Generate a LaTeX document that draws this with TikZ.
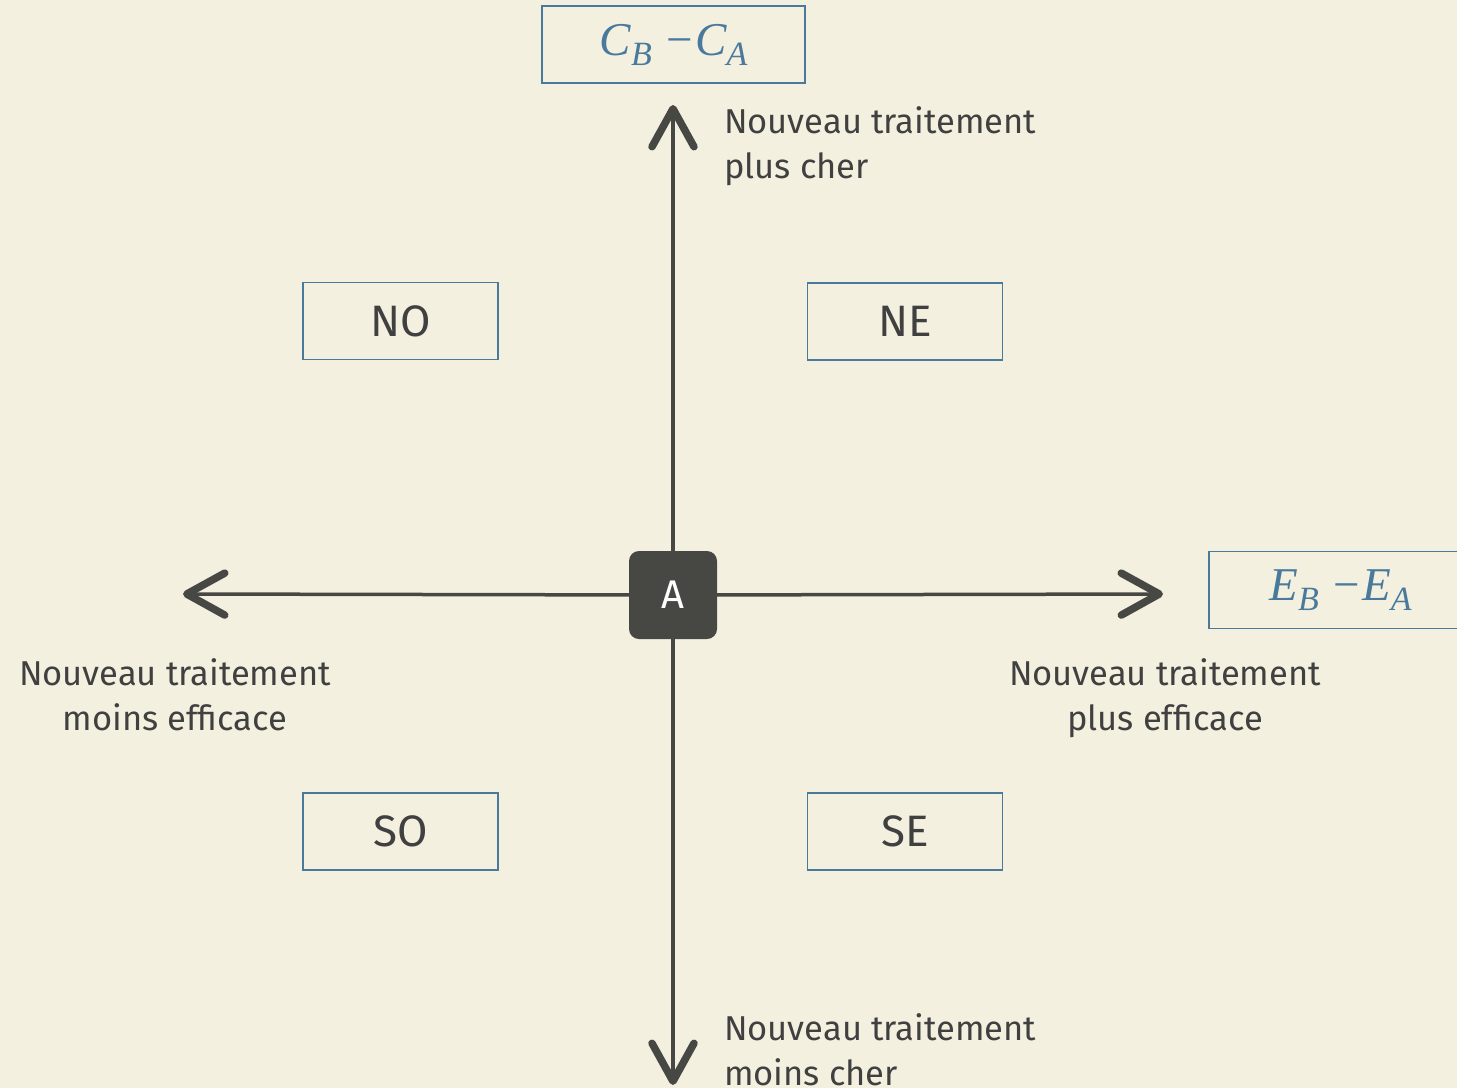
\documentclass[tikz,border=0pt]{standalone}
\usepackage{fontspec}
\setmainfont{Fira Sans}
\newfontfamily\mfont{Liberation Serif}
\usetikzlibrary{arrows.meta}
\definecolor{bg}{HTML}{F4F0E0}
\definecolor{ink}{HTML}{474743}
\definecolor{bl}{HTML}{4A7A9B}
\definecolor{txt}{HTML}{404040}
\newcommand{\mterm}[2]{#1\raisebox{-10pt}{\fontsize{34}{34}\selectfont #2}}
\begin{document}
\begin{tikzpicture}[x=1pt,y=-1pt,
  qbox/.style={draw=bl, line width=1.5pt, minimum width=195pt, minimum height=77pt, inner sep=0pt, font=\fontsize{44}{44}\selectfont, text=txt},
  mbox/.style={draw=bl, line width=1.5pt, minimum width=263pt, minimum height=77pt, inner sep=0pt, text=bl, font=\mfont\itshape\fontsize{47}{47}\selectfont},
  axisline/.style={draw=ink, line width=3.5pt, -{Straight Barb[length=38pt,width=42pt,line width=7.5pt,round]}},
  lbl/.style={font=\fontsize{34.5}{45}\selectfont, text=txt, inner sep=0pt}]
\useasboundingbox (0,0) rectangle (1457,1088);
\fill[bg] (0,0) rectangle (1457,1088);

\node[fill=ink, rounded corners=10pt, minimum width=88pt, minimum height=88pt, inner sep=0pt, text=white, font=\fontsize{40}{40}\selectfont] (A) at (673,595) {A};

\coordinate (top) at (673,105);
\coordinate (bot) at (673,1085);
\coordinate (lft) at (183,594);
\coordinate (rgt) at (1163,594);

\draw[axisline] (A) -- (top);
\draw[axisline] (A) -- (bot);
\draw[axisline] (A) -- (lft);
\draw[axisline] (A) -- (rgt);

\node[mbox] (cost) at (673.5,44.5) {\mterm{C}{B} −\mterm{C}{A}};
\node[mbox] (eff) at (1340.5,590) {\mterm{E}{B} −\mterm{E}{A}};

\node[qbox] (NO) at (400.5,321) {NO};
\node[qbox] (NE) at (905,321.5) {NE};
\node[qbox] (SO) at (400.5,831.5) {SO};
\node[qbox] (SE) at (905,831.5) {SE};

\node[lbl, anchor=west, align=left] (lup) at (724,146.5) {Nouveau traitement\\plus cher};
\node[lbl, anchor=west, align=left] (ldown) at (724,1050) {Nouveau traitement\\moins cher};
\node[lbl, align=center] (lleft) at (175,695) {Nouveau traitement\\moins efficace};
\node[lbl, align=center] (lright) at (1165,698.5) {Nouveau traitement\\plus efficace};
\end{tikzpicture}
\end{document}
